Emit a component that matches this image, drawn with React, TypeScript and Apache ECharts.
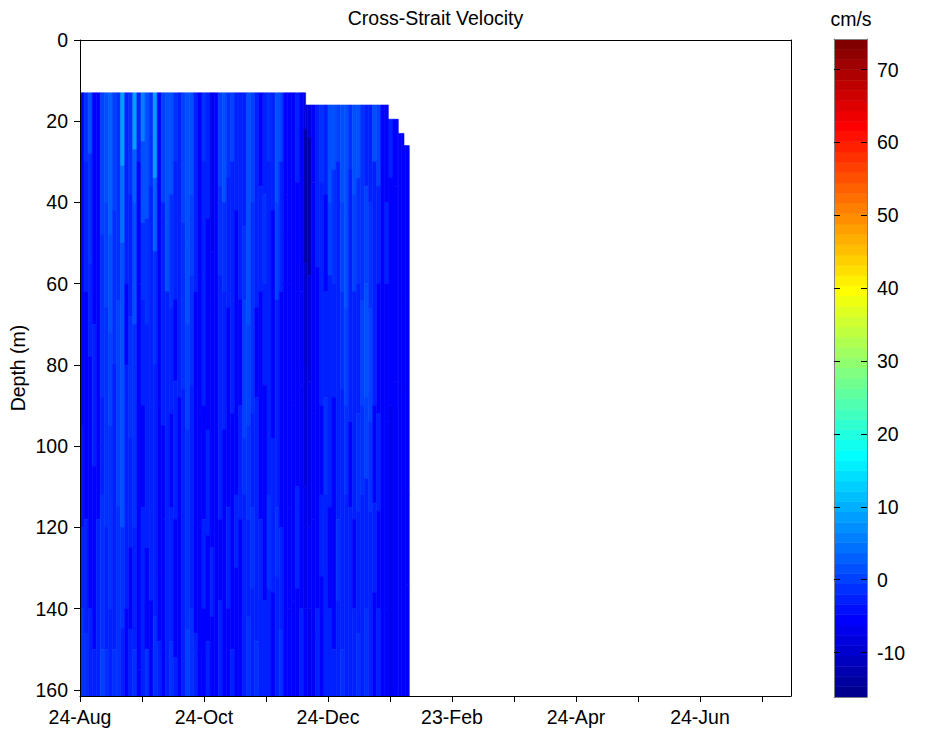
import React, { useEffect, useRef } from 'react';
import * as echarts from 'echarts';

// ---- axis ticks / labels ----
const DAY_TICKS = [0, 30.5, 61, 91.5, 122, 152.5, 183, 213.5, 244, 274.5, 305, 335.5];
const DAY_TICK_LABELS = ['24-Aug', '', '24-Oct', '', '24-Dec', '', '23-Feb', '', '24-Apr', '', '24-Jun', ''];
const DEPTH_TICKS = [0, 20, 40, 60, 80, 100, 120, 140, 160];
const CBAR_TICKS = [-10, 0, 10, 20, 30, 40, 50, 60, 70];
const DAY_MAX = 349.8;
const DEPTH_MAX = 161.5;
const V_MIN = -16.1;
const V_MAX = 74.2;

// ---- data layout: 2-day time columns (days since 24-Aug) ----
const COLUMN_DAYS = 2;
// first valid depth bin changes with time
const FIRST_BIN_START = [0, 111, 151.7, 156.6, 159.4];
const FIRST_BIN_END = [111, 151.7, 156.6, 159.4, 162];
const FIRST_BIN_DEPTH = [13, 16, 19.5, 23, 26];

// per column: [startDepth(m), velocity(cm/s), startDepth, velocity, ...]; 0 = first valid bin
const COLUMN_PROFILES: number[][] = [
  [0, -5, 95, -4, 120, -3, 140, -1],
  [0, -1, 30, -3, 62, -5, 118, -3, 146, -1],
  [0, 2, 28, -1, 55, -3, 78, -5, 140, -3],
  [0, -5, 70, -3, 105, -5, 150, -3],
  [0, -6, 100, -5, 118, -3],
  [0, 0, 48, -1, 88, -3, 112, -1, 150, 0],
  [0, 1, 40, 0, 66, -1, 120, -3, 150, -1],
  [0, 3, 48, 2, 72, 0, 95, -1, 140, -3],
  [0, 0, 42, -1, 80, -3, 150, -1],
  [0, -1, 64, 0, 115, -1],
  [0, 9, 31, 4, 50, 2, 88, 1, 120, -1, 145, -3],
  [0, -3, 60, -5, 80, -3, 140, -5],
  [0, -1, 38, -3, 68, -1, 98, -3, 125, -5, 145, -3],
  [0, 8, 27, 3, 40, 1, 70, -1, 120, -3, 150, -1],
  [0, -3, 30, -5, 60, -6, 155, -5],
  [0, 6, 25, 1, 45, -1, 64, -3, 90, -5, 115, -3],
  [0, 1, 44, -1, 70, -3, 125, -5, 150, -1],
  [0, -1, 36, -3, 138, -5],
  [0, 9, 34, 3, 52, -1, 80, -3, 142, -1],
  [0, -5, 90, -6, 130, -5, 148, -3],
  [0, 0, 40, -3, 95, -5, 118, -6, 150, -5],
  [0, 2, 45, 1, 62, -3],
  [0, 1, 38, -1, 66, -3, 92, -5, 115, -3, 148, -1],
  [0, -1, 30, -3, 64, -5, 84, -3, 118, -5, 152, -3],
  [0, -3, 88, -5],
  [0, 0, 45, -1, 86, -3],
  [0, 2, 50, 1, 70, 0, 96, -1, 145, 0],
  [0, 1, 38, 0, 58, -1, 85, -3, 140, -1],
  [0, -3, 62, -5, 146, -3],
  [0, -5, 58, -6, 92, -5, 120, -6, 150, -5],
  [0, -1, 30, -3, 90, -5, 118, -3, 140, -5],
  [0, -3, 44, -5, 96, -3, 122, -5, 148, -3],
  [0, -7, 52, -6, 66, -5, 125, -3, 142, -5],
  [0, -6, 40, -5],
  [0, 0, 36, -1, 58, -3, 118, -5, 138, -3],
  [0, 1, 40, -1, 62, -3, 96, -5],
  [0, -1, 34, -3, 66, -5, 115, -3, 140, -5],
  [0, 0, 30, -3, 92, -5, 150, -3],
  [0, -3, 42, -5, 112, -3, 130, -5],
  [0, -3, 64, -5, 90, -3, 118, -5],
  [0, -3, 46, -1, 64, 0, 98, -1, 112, -3],
  [0, 1, 70, 0, 95, -1, 118, -3, 142, -1],
  [0, 0, 40, -1, 92, -3, 115, -1, 135, -3],
  [0, -3, 66, -5, 88, -3, 148, -1],
  [0, -5, 36, -3, 62, -5, 118, -3],
  [0, -3, 38, -1, 60, -3, 85, -5, 138, -3],
  [0, -1, 30, -3, 112, -1, 135, -3],
  [0, -3, 42, -5, 98, -3, 136, -5],
  [0, 1, 40, 0, 64, -3, 115, -1, 132, -3],
  [0, 0, 30, -3, 62, -5, 120, -3, 145, -1],
  [0, -5, 38, -6, 60, -5],
  [0, -6, 48, -5, 60, -6, 115, -5, 140, -6],
  [0, -5, 90, -6, 138, -5],
  [0, -3, 35, -5, 110, -3, 135, -5],
  [0, -6, 62, -5, 85, -6, 115, -5, 140, -3],
  [0, -9, 22, -13, 55, -10, 80, -8, 110, -7, 140, -6],
  [0, -8, 24, -12, 58, -9, 84, -7, 120, -6, 140, -7],
  [0, -5, 35, -6, 92, -5, 118, -6, 146, -5],
  [0, -3, 56, -5, 140, -3],
  [0, -1, 35, -3, 90, -5, 112, -3, 132, -5],
  [0, -3, 38, -5, 62, -3, 88, -1, 112, -3],
  [0, 1, 40, 0, 58, -3, 115, -5, 140, -3],
  [0, 1, 32, -1, 60, -3, 88, -5, 150, -3],
  [0, 0, 30, -3, 118, -1, 138, -3],
  [0, 1, 40, 0, 62, -1, 86, -3, 150, -1],
  [0, 2, 42, 1, 66, 0, 90, -1, 112, -3],
  [0, -1, 32, -3, 94, -5, 115, -3],
  [0, 2, 38, 0, 62, -3, 118, -5, 140, -3],
  [0, 1, 34, -1, 60, -3, 92, -1, 116, -3, 146, -1],
  [0, -1, 64, 0, 90, -1, 112, -3],
  [0, -3, 36, 0, 60, 1, 88, 0, 108, -3, 140, -1],
  [0, -3, 40, -1, 66, 0, 94, -1, 116, -3],
  [0, 1, 30, -3, 90, -5, 114, -3, 136, -5],
  [0, 0, 36, -3, 60, -5, 92, -3, 116, -5, 140, -3],
  [0, -5],
  [0, -5, 40, -3, 60, -5, 94, -6, 140, -5],
  [0, -3, 34, -5, 90, -7],
  [0, -6, 36, -5, 84, -6],
  [0, -5],
  [0, -5, 64, -6, 86, -5],
  [0, -5, 112, -6, 134, -5],
];

// ---- jet colormap (64 levels) ----
const N_LEVELS = 64;
function jet(i: number): string {
  const u = (k: number) => (k < 1 || k > 47 ? 0 : k <= 16 ? k / 16 : k <= 31 ? 1 : (48 - k) / 16);
  const idx = i + 1;
  const c = [u(idx - 24), u(idx - 8), u(idx + 8)];
  return '#' + c.map((v) => Math.round(v * 255).toString(16).padStart(2, '0')).join('');
}

const FONT = 'Liberation Sans, Arial, Helvetica, sans-serif';
const FS = 19.5;

export default function App() {
  const ref = useRef<HTMLDivElement>(null);
  useEffect(() => {
    if (!ref.current) return;
    const chart = echarts.init(ref.current, undefined, { renderer: 'svg' });

    const mainData: number[][] = [];
    COLUMN_PROFILES.forEach((prof, i) => {
      const t0 = i * COLUMN_DAYS;
      const t1 = t0 + COLUMN_DAYS;
      for (let k = 0; k < prof.length; k += 2) {
        const v = prof[k + 1];
        const dEnd = k + 2 < prof.length ? prof[k + 2] : DEPTH_MAX;
        if (k === 0) {
          FIRST_BIN_START.forEach((s0, s) => {
            const a = Math.max(t0, s0);
            const c = Math.min(t1, FIRST_BIN_END[s]);
            if (c > a) mainData.push([a, c, FIRST_BIN_DEPTH[s], dEnd, v]);
          });
        } else {
          mainData.push([t0, t1, prof[k], dEnd, v]);
        }
      }
    });

    const step = (V_MAX - V_MIN) / N_LEVELS;
    const pieces: any[] = [];
    const barData: number[][] = [];
    for (let i = 0; i < N_LEVELS; i++) {
      const lo = V_MIN + i * step;
      const hi = lo + step;
      const p: any = { color: jet(i) };
      if (i > 0) p.gte = lo;
      if (i < N_LEVELS - 1) p.lt = hi;
      pieces.push(p);
      barData.push([0, 1, lo, hi, (lo + hi) / 2]);
    }

    const renderItem = (params: any, api: any) => {
      const p0 = api.coord([api.value(0), api.value(2)]);
      const p1 = api.coord([api.value(1), api.value(3)]);
      const color = api.visual('color');
      return {
        type: 'rect',
        shape: {
          x: Math.min(p0[0], p1[0]),
          y: Math.min(p0[1], p1[1]),
          width: Math.abs(p1[0] - p0[0]),
          height: Math.abs(p1[1] - p0[1]),
        },
        style: { fill: color, stroke: color, lineWidth: 0.6 },
      };
    };

    const black = { color: '#000', width: 1 };
    const grey = { color: '#808080', width: 1 };
    const label = { color: '#000', fontSize: FS, fontFamily: FONT };

    chart.setOption({
      animation: false,
      backgroundColor: '#fff',
      grid: [
        { left: 80, top: 40, width: 711, height: 656 },
        { left: 834, top: 39, width: 33, height: 658 },
      ],
      visualMap: {
        type: 'piecewise',
        show: false,
        dimension: 4,
        seriesIndex: [0, 1],
        pieces,
      },
      xAxis: [
        {
          gridIndex: 0, type: 'value', position: 'bottom', min: 0, max: DAY_MAX, interval: 30.5, z: 10,
          axisLine: { onZero: false, lineStyle: black },
          axisTick: { show: true, inside: false, length: 6, lineStyle: black, customValues: DAY_TICKS },
          axisLabel: {
            ...label, margin: 11,
            customValues: DAY_TICKS.filter((_, i) => DAY_TICK_LABELS[i] !== ''),
            formatter: (v: number) => DAY_TICK_LABELS[Math.round(v / 30.5)] || '',
          },
          splitLine: { show: false },
        },
        {
          gridIndex: 0, type: 'value', position: 'top', min: 0, max: DAY_MAX, z: 10,
          axisLine: { onZero: false, lineStyle: black },
          axisTick: { show: false }, axisLabel: { show: false }, splitLine: { show: false },
        },
        {
          gridIndex: 1, type: 'value', position: 'bottom', min: 0, max: 1, z: 10,
          axisLine: { onZero: false, lineStyle: grey },
          axisTick: { show: false }, axisLabel: { show: false }, splitLine: { show: false },
        },
        {
          gridIndex: 1, type: 'value', position: 'top', min: 0, max: 1, z: 10,
          axisLine: { onZero: false, lineStyle: grey },
          axisTick: { show: false }, axisLabel: { show: false }, splitLine: { show: false },
        },
      ],
      yAxis: [
        {
          gridIndex: 0, type: 'value', position: 'left', inverse: true, min: 0, max: DEPTH_MAX, interval: 20, z: 10,
          axisLine: { onZero: false, lineStyle: black },
          axisTick: { show: true, inside: false, length: 6, lineStyle: black, customValues: DEPTH_TICKS },
          axisLabel: {
            ...label, margin: 12, customValues: DEPTH_TICKS,
            formatter: (v: number) => (v % 20 === 0 ? String(v) : ''),
          },
          splitLine: { show: false },
        },
        {
          gridIndex: 0, type: 'value', position: 'right', inverse: true, min: 0, max: DEPTH_MAX, z: 10,
          axisLine: { onZero: false, lineStyle: black },
          axisTick: { show: false }, axisLabel: { show: false }, splitLine: { show: false },
        },
        {
          gridIndex: 1, type: 'value', position: 'right', min: V_MIN, max: V_MAX, interval: 10, z: 10,
          axisLine: { onZero: false, lineStyle: grey },
          axisTick: { show: true, inside: true, length: 6, lineStyle: black, customValues: CBAR_TICKS },
          axisLabel: {
            ...label, margin: 10, customValues: CBAR_TICKS,
            formatter: (v: number) => (Math.abs(v % 10) < 1e-6 ? String(v) : ''),
          },
          splitLine: { show: false },
        },
        {
          gridIndex: 1, type: 'value', position: 'left', min: V_MIN, max: V_MAX, interval: 10, z: 10,
          axisLine: { onZero: false, lineStyle: grey },
          axisTick: { show: true, inside: true, length: 6, lineStyle: black, customValues: CBAR_TICKS },
          axisLabel: { show: false },
          splitLine: { show: false },
        },
      ],
      series: [
        {
          type: 'custom', xAxisIndex: 0, yAxisIndex: 0, clip: true,
          encode: { x: [0, 1], y: [2, 3] },
          renderItem, data: mainData,
        },
        {
          type: 'custom', xAxisIndex: 2, yAxisIndex: 2, clip: true,
          encode: { x: [0, 1], y: [2, 3] },
          renderItem, data: barData,
        },
      ],
      graphic: [
        {
          type: 'text', x: 435.5, y: 18,
          style: { text: 'Cross-Strait Velocity', fontSize: FS, fontFamily: FONT, fill: '#000', align: 'center', verticalAlign: 'middle' },
        },
        {
          type: 'text', x: 851, y: 19,
          style: { text: 'cm/s', fontSize: FS, fontFamily: FONT, fill: '#000', align: 'center', verticalAlign: 'middle' },
        },
        {
          type: 'text', x: 18, y: 368, rotation: Math.PI / 2,
          style: { text: 'Depth (m)', fontSize: FS, fontFamily: FONT, fill: '#000', align: 'center', verticalAlign: 'middle' },
        },
      ],
    });
    return () => chart.dispose();
  }, []);
  return <div ref={ref} style={{ position: 'fixed', left: 0, top: 0, width: 932, height: 734 }} />;
}
